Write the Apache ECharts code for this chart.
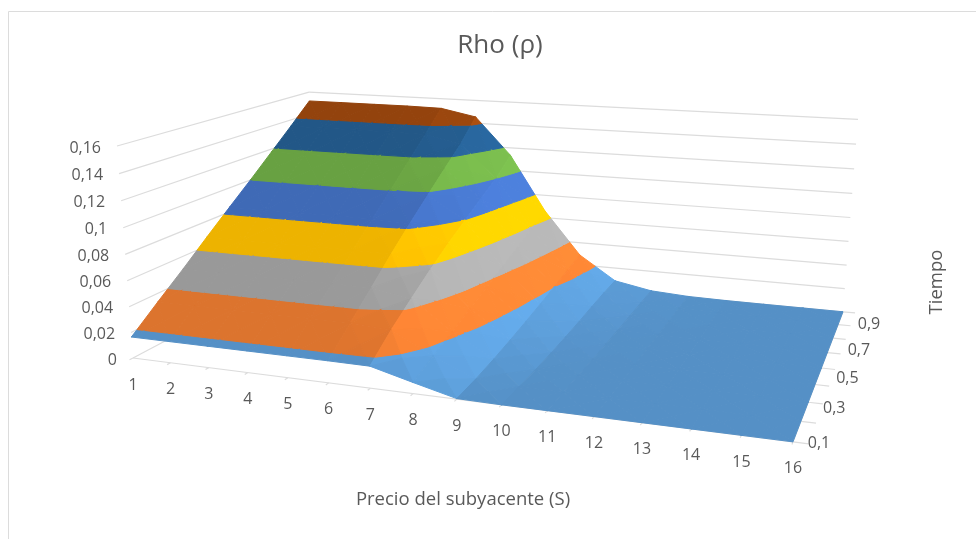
<!DOCTYPE html>
<html>
<head>
<meta charset="utf-8">
<style>html,body{margin:0;padding:0;background:#fff}#chart{width:980px;height:539px}</style>
<script src="https://cdn.jsdelivr.net/npm/echarts@6/dist/echarts.min.js"></script>
</head>
<body>
<div id="chart"></div>
<script>
// Rho of an option against underlying price (S) and time (T).
const prices = [1,2,3,4,5,6,7,8,9,10,11,12,13,14,15,16];
const times = [0.1,0.2,0.3,0.4,0.5,0.6,0.7,0.8,0.9];
const rhoT01 = [.0165,.0165,.0165,.0165,.0165,.0165,.0163,.0082,.0004,0,0,0,0,0,0,0];
const rhoT02 = [.0335,.0335,.0335,.0335,.0335,.0335,.0316,.0156,.0020,.0001,0,0,0,0,0,0];
const rhoT03 = [.0500,.0500,.0500,.0500,.0500,.0499,.0447,.0225,.0047,.0005,0,0,0,0,0,0];
const rhoT04 = [.0672,.0672,.0672,.0672,.0672,.0667,.0573,.0298,.0080,.0013,.0001,0,0,0,0,0];
const rhoT05 = [.0840,.0840,.0840,.0840,.0840,.0826,.0689,.0368,.0117,.0025,.0003,0,0,0,0,0];
const rhoT06 = [.1005,.1005,.1005,.1005,.1004,.0978,.0796,.0438,.0157,.0040,.0008,.0001,0,0,0,0];
const rhoT07 = [.1175,.1175,.1175,.1175,.1173,.1128,.0901,.0510,.0200,.0059,.0014,.0002,0,0,0,0];
const rhoT08 = [.1345,.1345,.1345,.1345,.1341,.1274,.1002,.0582,.0245,.0075,.0020,.0005,.0001,0,0,0];
const rhoT09 = [.1520,.1520,.1520,.1520,.1515,.1455,.1135,.0660,.0290,.0085,.0025,.0006,.0001,0,0,0];
const rhoRows = [rhoT01,rhoT02,rhoT03,rhoT04,rhoT05,rhoT06,rhoT07,rhoT08,rhoT09];

const rhoTicks = [0,0.02,0.04,0.06,0.08,0.1,0.12,0.14,0.16];
const rhoTickLabels = ['0','0,02','0,04','0,06','0,08','0,1','0,12','0,14','0,16'];
const timeTickLabels = {0.1:'0,1',0.3:'0,3',0.5:'0,5',0.7:'0,7',0.9:'0,9'};
const bandColors = ['#5B9BD5','#ED7D31','#A5A5A5','#FFC000','#4472C4','#70AD47','#255E91','#9E480E'];

// Perspective camera: origin plus the three vanishing points of the box edges.
const origin = [133,358];
const vanishS = [-3400,-91,-0.1574];
const vanishT = [1002,-102,0.2649];
const vanishR = [480,4960,-0.04404];
const rhoMax = 0.16;

function project(S,T,r){
  const s=(S-1)/15, t=(T-0.1)/0.8, u=r/rhoMax;
  const a=s*vanishS[2], b=t*vanishT[2], c=u*vanishR[2];
  const w=1+a+b+c;
  return [(origin[0]+a*vanishS[0]+b*vanishT[0]+c*vanishR[0])/w,
          (origin[1]+a*vanishS[1]+b*vanishT[1]+c*vanishR[1])/w];
}

function shade(hex,f){
  const n=parseInt(hex.slice(1),16);
  const ch=[n>>16,(n>>8)&255,n&255].map(v=>Math.min(255,Math.round(v*f)));
  return 'rgb('+ch.join(',')+')';
}

// Keep the part of a facet whose rho lies on one side of a level.
function clipRho(poly,level,keepAbove){
  const out=[];
  for(let i=0;i<poly.length;i++){
    const p=poly[i], q=poly[(i+1)%poly.length];
    const pIn=keepAbove?p[2]>=level:p[2]<=level;
    const qIn=keepAbove?q[2]>=level:q[2]<=level;
    if(pIn) out.push(p);
    if(pIn!==qIn){
      const k=(level-p[2])/(q[2]-p[2]);
      out.push([p[0]+k*(q[0]-p[0]),p[1]+k*(q[1]-p[1]),level]);
    }
  }
  return out;
}

// Brightness of a facet: surfaces falling towards high S catch the light.
function facetLight(tri){
  const [a,b,c]=tri.map(v=>[(v[0]-1)/15,(v[1]-0.1)/0.8*0.55,v[2]/rhoMax*0.6]);
  const u=[b[0]-a[0],b[1]-a[1],b[2]-a[2]], v=[c[0]-a[0],c[1]-a[1],c[2]-a[2]];
  let n=[u[1]*v[2]-u[2]*v[1],u[2]*v[0]-u[0]*v[2],u[0]*v[1]-u[1]*v[0]];
  if(n[2]<0) n=n.map(x=>-x);
  const len=Math.hypot(n[0],n[1],n[2])||1;
  return 0.93+0.22*Math.max(0,n[0]/len);
}

// Split each grid cell into four facets, then cut them along the rho bands.
const facets=[];
for(let j=times.length-2;j>=0;j--){
  for(let i=0;i<prices.length-1;i++){
    const c00=[prices[i],times[j],rhoRows[j][i]];
    const c10=[prices[i+1],times[j],rhoRows[j][i+1]];
    const c11=[prices[i+1],times[j+1],rhoRows[j+1][i+1]];
    const c01=[prices[i],times[j+1],rhoRows[j+1][i]];
    const mid=[(prices[i]+prices[i+1])/2,(times[j]+times[j+1])/2,(c00[2]+c10[2]+c11[2]+c01[2])/4];
    [[c01,c11,mid],[c00,c01,mid],[c10,c11,mid],[c00,c10,mid]].forEach(tri=>{
      const light=facetLight(tri);
      bandColors.forEach((col,b)=>{
        const lo=rhoTicks[b], hi=rhoTicks[b+1];
        let poly=clipRho(tri,lo,true);
        if(poly.length>2) poly=clipRho(poly,hi,false);
        if(poly.length>2) facets.push({poly,fill:shade(col,light)});
      });
    });
  }
}

// Wall gridlines and axis ticks.
const lastS=prices[prices.length-1], lastT=times[times.length-1];
const rules=[];
rhoTicks.forEach(r=>{
  rules.push([[prices[0],times[0],r],[prices[0],lastT,r]]);
  rules.push([[prices[0],lastT,r],[lastS,lastT,r]]);
});
rules.push([[prices[0],times[0],0],[lastS,times[0],0]]);
rules.push([[lastS,times[0],0],[lastS,lastT,0]]);
prices.forEach(S=>rules.push([[S,times[0],0],[S,times[0]-0.012,0]]));
times.forEach(T=>rules.push([[lastS,T,0],[lastS+0.3,T,0]]));

// Tick labels, placed at a fixed offset from their tick.
const labels=[];
rhoTicks.forEach((r,i)=>labels.push({at:[prices[0],times[0],r],text:rhoTickLabels[i],dx:-16,dy:2,align:'right'}));
prices.forEach(S=>labels.push({at:[S,times[0],0],text:String(S),dx:0,dy:27,align:'center'}));
const timeLabelDrop=[2,6,10,12,13];
Object.keys(timeTickLabels).map(Number).forEach((T,i)=>labels.push({at:[lastS,T,0],text:timeTickLabels[T],dx:26,dy:timeLabelDrop[i],align:'center'}));

const fontFamily='"Open Sans", sans-serif';
const inkColor='#595959', ruleColor='#dcdcdc';

const chart=echarts.init(document.getElementById('chart'),null,{renderer:'canvas'});
chart.setOption({
  animation:false,
  backgroundColor:'#fff',
  title:{text:'Rho (ρ)',left:495,top:41,textAlign:'center',textVerticalAlign:'middle',
    textStyle:{fontFamily,fontSize:26,fontWeight:'normal',color:inkColor}},
  grid:{left:0,right:0,top:0,bottom:0},
  xAxis:{type:'value',min:0,max:980,show:false},
  yAxis:{type:'value',min:0,max:539,inverse:true,show:false},
  graphic:[
    {type:'line',silent:true,shape:{x1:8.5,y1:11.5,x2:976,y2:11.5},style:{stroke:ruleColor,lineWidth:1}},
    {type:'line',silent:true,shape:{x1:8.5,y1:11.5,x2:8.5,y2:539},style:{stroke:ruleColor,lineWidth:1}},
    {type:'text',silent:true,x:463,y:500,style:{text:'Precio del subyacente (S)',fontFamily,fontSize:18.5,fill:inkColor,align:'center',verticalAlign:'middle'}},
    {type:'text',silent:true,x:937,y:282,rotation:Math.PI/2,style:{text:'Tiempo',fontFamily,fontSize:18.5,fill:inkColor,align:'center',verticalAlign:'middle'}}
  ],
  series:[
    {type:'custom',coordinateSystem:'cartesian2d',silent:true,progressive:0,data:rules.map((_,i)=>[i]),
     renderItem(params,api){
       const [a,b]=rules[params.dataIndex];
       const p=api.coord(project(a[0],a[1],a[2])), q=api.coord(project(b[0],b[1],b[2]));
       return {type:'line',shape:{x1:p[0],y1:p[1],x2:q[0],y2:q[1]},style:{stroke:ruleColor,lineWidth:1.2}};
     }},
    {type:'custom',coordinateSystem:'cartesian2d',silent:true,progressive:0,data:facets.map((_,i)=>[i]),
     renderItem(params,api){
       const f=facets[params.dataIndex];
       const points=f.poly.map(v=>api.coord(project(v[0],v[1],v[2])));
       return {type:'polygon',shape:{points},style:{fill:f.fill,stroke:f.fill,lineWidth:1}};
     }},
    {type:'custom',coordinateSystem:'cartesian2d',silent:true,progressive:0,data:labels.map((_,i)=>[i]),
     renderItem(params,api){
       const l=labels[params.dataIndex];
       const p=api.coord(project(l.at[0],l.at[1],l.at[2]));
       return {type:'text',x:p[0]+l.dx,y:p[1]+l.dy,style:{text:l.text,fontFamily,fontSize:16,fill:inkColor,align:l.align,verticalAlign:'middle'}};
     }}
  ]
});
</script>
</body>
</html>
